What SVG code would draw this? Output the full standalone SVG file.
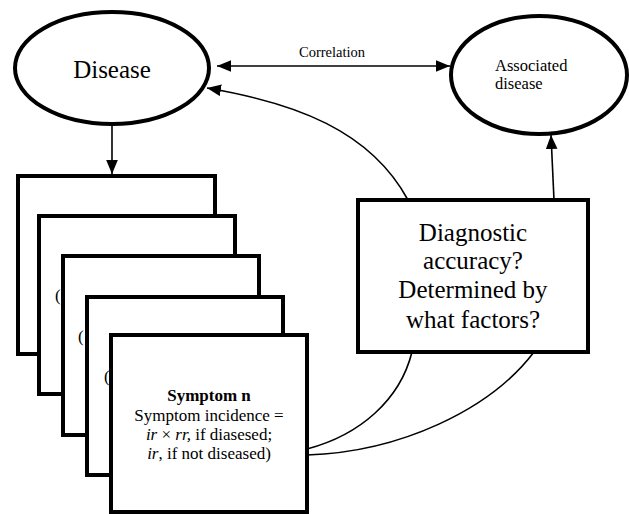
<svg xmlns="http://www.w3.org/2000/svg" width="629" height="514" viewBox="0 0 629 514">
<style>
.node{fill:#fff;stroke:#000;stroke-width:4}
text{font-family:'Liberation Serif','DejaVu Serif',serif;fill:#000}
.c{fill:none;stroke:#000;stroke-width:1.6}
</style>
<defs>
<marker id="ah" markerUnits="userSpaceOnUse" markerWidth="14" markerHeight="12" refX="12" refY="5" orient="auto-start-reverse" viewBox="0 0 12 10">
<path d="M0,0 L12,5 L0,10 Z" fill="#000"/>
</marker>
</defs>
<rect width="629" height="514" fill="#fff"/>
<g id="disease">
<ellipse class="node" cx="112" cy="68" rx="97" ry="56"/>
<text font-family="Liberation Serif, serif" x="112" y="78" font-size="25" text-anchor="middle">Disease</text>
</g>
<g id="associated-disease">
<ellipse class="node" cx="539" cy="75" rx="88" ry="59"/>
<text font-family="Liberation Serif, serif" x="495" y="71" font-size="16.5">Associated</text>
<text font-family="Liberation Serif, serif" x="495" y="89" font-size="16.5">disease</text>
</g>
<g id="symptom-1">
<rect class="node" x="18" y="176" width="197" height="178"/>
</g>
<g id="symptom-2">
<rect class="node" x="39" y="216" width="196" height="178"/>
<text font-family="Liberation Serif, serif" x="55" y="301" font-size="17">(</text>
</g>
<g id="symptom-3">
<rect class="node" x="63" y="256" width="196" height="179"/>
<text font-family="Liberation Serif, serif" x="78" y="342" font-size="17">(</text>
</g>
<g id="symptom-4">
<rect class="node" x="87" y="297" width="196" height="178"/>
<text font-family="Liberation Serif, serif" x="104" y="382" font-size="17">(</text>
</g>
<g id="symptom-n">
<rect class="node" x="111" y="335" width="196" height="177"/>
<text font-family="Liberation Serif, serif" x="209" y="401" font-size="17" font-weight="bold" text-anchor="middle">Symptom n</text>
<text font-family="Liberation Serif, serif" x="209" y="421" font-size="17" text-anchor="middle">Symptom incidence =</text>
<text font-family="Liberation Serif, serif" x="209" y="440" font-size="17" text-anchor="middle"><tspan font-style="italic">ir</tspan> × <tspan font-style="italic">rr,</tspan> if diasesed;</text>
<text font-family="Liberation Serif, serif" x="209" y="459" font-size="17" text-anchor="middle"><tspan font-style="italic">ir</tspan>, if not diseased)</text>
</g>
<g id="diagnostic">
<rect class="node" x="358" y="200" width="230" height="152"/>
<text font-family="Liberation Serif, serif" x="473" y="241" font-size="25" text-anchor="middle">Diagnostic</text>
<text font-family="Liberation Serif, serif" x="473" y="269" font-size="25" text-anchor="middle">accuracy?</text>
<text font-family="Liberation Serif, serif" x="473" y="298" font-size="25" text-anchor="middle">Determined by</text>
<text font-family="Liberation Serif, serif" x="473" y="328" font-size="25" text-anchor="middle">what factors?</text>
</g>
<g id="connectors">
<line class="c" x1="217" y1="66" x2="450" y2="66" marker-start="url(#ah)" marker-end="url(#ah)"/>
<text font-family="Liberation Serif, serif" x="332" y="57" font-size="14.5" text-anchor="middle">Correlation</text>
<line class="c" x1="112" y1="124" x2="112" y2="174" stroke-width="2" marker-end="url(#ah)"/>
<path class="c" d="M408 200 C370 130 295 103 207 88" marker-end="url(#ah)"/>
<line class="c" x1="554" y1="200" x2="551" y2="135" marker-end="url(#ah)"/>
<path class="c" d="M307 449 C360 435 400 400 412 352"/>
<path class="c" d="M307 455 C400 452 490 410 534 352"/>
</g>
</svg>
